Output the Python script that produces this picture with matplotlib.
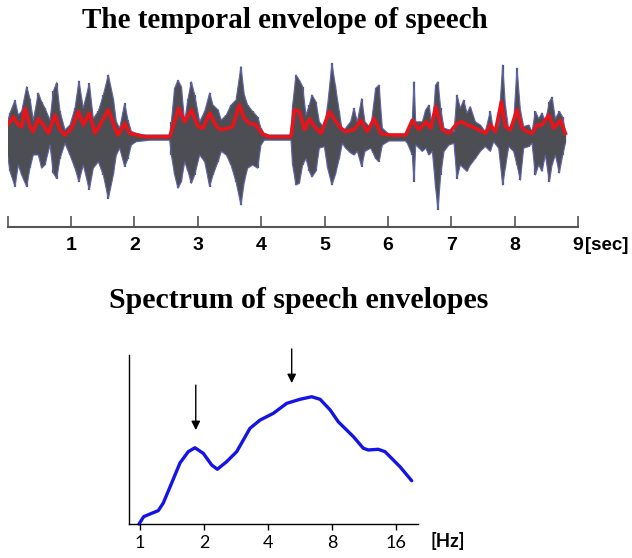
import numpy as np
import matplotlib
matplotlib.use("Agg")
import matplotlib.pyplot as plt

# speech waveform: upper / lower extent (time in sec)
wave_t = [0.00, 0.038, 0.117, 0.169, 0.222, 0.301, 0.353, 0.406, 0.485, 0.537, 0.590, 0.669, 0.721,
          0.774, 0.827, 0.905, 0.984, 1.063, 1.126, 1.194, 1.289, 1.352, 1.431, 1.510, 1.589, 1.668,
          1.715, 1.768, 1.847, 1.899, 1.952, 2.031, 2.136, 2.241, 2.399, 2.557, 2.583, 2.635, 2.688,
          2.741, 2.793, 2.846, 2.899, 2.951, 3.030, 3.109, 3.187, 3.240, 3.319, 3.371, 3.450,
          3.524, 3.603, 3.681, 3.734, 3.786, 3.865, 3.944, 3.997, 4.049, 4.128, 4.286, 4.470, 4.496,
          4.549, 4.602, 4.654, 4.707, 4.760, 4.801, 4.864, 4.917, 4.996, 5.048, 5.116, 5.169, 5.232,
          5.280, 5.332, 5.411, 5.464, 5.516, 5.585, 5.637, 5.727, 5.806, 5.859, 5.911, 6.017, 6.148,
          6.280, 6.306, 6.384, 6.411, 6.437, 6.542, 6.595, 6.647, 6.700, 6.752, 6.789, 6.831, 6.884,
          6.962, 7.041,
          7.088, 7.141, 7.194, 7.246, 7.299, 7.378, 7.457, 7.535, 7.614, 7.667, 7.746, 7.809, 7.851,
          7.904, 7.982, 8.035, 8.088, 8.140, 8.219, 8.272, 8.325, 8.377, 8.430, 8.482, 8.546, 8.588,
          8.640, 8.703, 8.756, 8.798]
wave_up = [0.19, 0.30, 0.46, 0.275, 0.32, 0.63, 0.48, 0.21, 0.55, 0.44, 0.36, 0.21, 0.57,
           0.68, 0.32, 0.09, 0.15, 0.36, 0.70, 0.36, 0.67, 0.23, 0.32, 0.525, 0.775, 0.48,
           0.19, 0.11, 0.42, 0.21, 0.07, 0.046, 0.025, 0.025, 0.025, 0.025, 0.19, 0.61, 0.71,
           0.63, 0.19, 0.48, 0.69, 0.525, 0.19, 0.32, 0.55, 0.40, 0.34, 0.21, 0.275,
           0.40, 0.46, 0.88, 0.525, 0.40, 0.32, 0.25, 0.11, 0.046, 0.025, 0.025, 0.025, 0.40,
           0.775, 0.71, 0.63, 0.275, 0.40, 0.525, 0.44, 0.19, 0.11, 0.40, 0.92, 0.65, 0.32,
           0.067, 0.11, 0.19, 0.36, 0.19, 0.48, 0.19, 0.11, 0.61, 0.65, 0.11, 0.033, 0.033,
           0.033, 0.09, 0.23, 0.69, 0.19, 0.19, 0.34, 0.40, 0.11, 0.65, 0.69, 0.36, 0.11,
           0.09, 0.067,
           0.525, 0.36, 0.46, 0.30, 0.38, 0.19, 0.15, 0.067, 0.32, 0.067, 0.15, 0.90, 0.40,
           0.09, 0.19, 0.86, 0.34, 0.13, 0.15, 0.067, 0.32, 0.23, 0.30, 0.19, 0.44, 0.50,
           0.23, 0.32, 0.25, 0.067]
wave_lo = [-0.225, -0.43, -0.62, -0.35, -0.475, -0.62, -0.39, -0.225, -0.225, -0.39, -0.35, -0.10, -0.45,
           -0.52, -0.27, -0.08, -0.225, -0.39, -0.56, -0.35, -0.66, -0.39, -0.31, -0.475, -0.77, -0.475,
           -0.225, -0.14, -0.37, -0.27, -0.10, -0.058, -0.05, -0.04, -0.04, -0.04, -0.225, -0.475, -0.64,
           -0.56, -0.31, -0.43, -0.58, -0.475, -0.225, -0.31, -0.62, -0.475, -0.31, -0.18, -0.225,
           -0.35, -0.56, -0.85, -0.56, -0.39, -0.35, -0.39, -0.10, -0.04, -0.04, -0.04, -0.04, -0.35,
           -0.60, -0.58, -0.35, -0.27, -0.43, -0.50, -0.43, -0.14, -0.12, -0.39, -0.60, -0.475, -0.27,
           -0.08, -0.14, -0.20, -0.225, -0.18, -0.37, -0.18, -0.14, -0.27, -0.31, -0.10, -0.05, -0.05,
           -0.05, -0.08, -0.225, -0.56, -0.10, -0.18, -0.14, -0.225, -0.18, -0.64, -0.91, -0.475, -0.18,
           -0.10, -0.08,
           -0.52, -0.35, -0.39, -0.43, -0.35, -0.27, -0.18, -0.12, -0.18, -0.06, -0.14, -0.60, -0.39,
           -0.12, -0.18, -0.35, -0.54, -0.14, -0.12, -0.08, -0.475, -0.35, -0.43, -0.225, -0.56, -0.35,
           -0.225, -0.45, -0.225, -0.08]

# red temporal envelope
env_t = [0.00, 0.090, 0.169, 0.222, 0.274, 0.353, 0.406, 0.485, 0.564, 0.643, 0.748, 0.827, 0.905,
         1.010, 1.116, 1.194, 1.289, 1.379, 1.458, 1.589, 1.694,
         1.741, 1.847, 1.925, 2.031, 2.188, 2.557, 2.609, 2.698, 2.793, 2.899, 3.004, 3.082, 3.187,
         3.293, 3.371, 3.476,
         3.550, 3.655, 3.734, 3.813, 3.918, 4.023, 4.128, 4.470, 4.523, 4.602, 4.681, 4.760, 4.838,
         4.944, 5.075, 5.180, 5.259,
         5.332, 5.464, 5.569, 5.674, 5.780, 5.885, 6.017, 6.280, 6.384, 6.490, 6.595, 6.674, 6.752,
         6.857, 6.962,
         7.088, 7.167, 7.246, 7.325, 7.430, 7.535, 7.614, 7.693, 7.788, 7.851, 7.930, 8.035, 8.114,
         8.193, 8.272, 8.351, 8.430, 8.535, 8.614, 8.719, 8.798]
env_v = [0.15, 0.25, 0.15, 0.13, 0.36, 0.13, 0.067, 0.23, 0.15, 0.046, 0.275, 0.09, 0.025,
         0.11, 0.32, 0.15, 0.30, 0.046, 0.15, 0.34, 0.11,
         0.025, 0.17, 0.046, 0.025, 0.004, 0.004, 0.13, 0.36, 0.19, 0.34, 0.13, 0.11, 0.30,
         0.13, 0.09, 0.11,
         0.13, 0.40, 0.23, 0.17, 0.15, 0.033, 0.004, 0.004, 0.34, 0.32, 0.09, 0.23, 0.13,
         0.046, 0.32, 0.19, 0.11,
         0.067, 0.09, 0.21, 0.067, 0.23, 0.046, 0.025, 0.025, 0.21, 0.09, 0.19, 0.11, 0.38,
         0.09, 0.046,
         0.17, 0.19, 0.15, 0.13, 0.09, 0.046, 0.15, 0.067, 0.44, 0.13, 0.09, 0.34, 0.11,
         0.067, 0.046, 0.15, 0.15, 0.275, 0.11, 0.21, 0.046]

sec_ticks = [0, 1, 2, 3, 4, 5, 6, 7, 8, 9]
sec_labels = ["", "1", "2", "3", "4", "5", "6", "7", "8", "9"]

# modulation spectrum of the envelope
spec_f = [0.99, 1.04, 1.114, 1.219, 1.287, 1.41, 1.542, 1.687, 1.814, 1.985, 2.174, 2.31, 2.558,
          2.85, 3.29, 3.67, 4.24, 4.90, 5.66, 6.42, 7.03, 7.84, 8.56, 10.08, 11.23, 11.85, 13.2,
          14.2, 16.7, 18.96]
spec_v = [0.0, 0.043, 0.059, 0.079, 0.124, 0.243, 0.361, 0.428, 0.451, 0.418, 0.349, 0.324, 0.369,
          0.428, 0.566, 0.615, 0.655, 0.714, 0.738, 0.753, 0.738, 0.675, 0.605, 0.517, 0.448, 0.438,
          0.442, 0.428, 0.339, 0.256]
hz_ticks = [1, 2, 4, 8, 16]
arrow_f = [1.83, 5.17]
arrow_top = [0.822, 1.036]
arrow_tip = [0.556, 0.834]

W, H = 632, 558
fig = plt.figure(figsize=(W / 100, H / 100), dpi=100)

# ---- top panel: waveform + envelope
ax1 = fig.add_axes([7.6 / W, (H - 227) / H, 570.6 / W, 172 / H])
ax1.fill_between(wave_t, wave_lo, wave_up, facecolor="#4d4d54", edgecolor="none", lw=0)
ax1.vlines(wave_t, wave_lo, wave_up, color="#4d4d54", lw=1.6)
ax1.plot(wave_t, wave_up, color="#6064a8", lw=0.8)
ax1.plot(wave_t, wave_lo, color="#6064a8", lw=0.8)
ax1.plot(env_t, env_v, color="#e8141a", lw=2.6, solid_joinstyle="round")
ax1.set_xlim(0, 9)
ax1.set_ylim(-1.125, 1.025)
for s in ["left", "right", "top"]:
    ax1.spines[s].set_visible(False)
ax1.spines["bottom"].set_color("#555555")
ax1.spines["bottom"].set_linewidth(1.5)
ax1.set_yticks([])
ax1.set_xticks(sec_ticks)
ax1.set_xticklabels(sec_labels)
ax1.tick_params(axis="x", direction="in", length=8, width=1.2, color="#555555", pad=7)
for lab in ax1.get_xticklabels():
    lab.set_fontfamily("Liberation Sans")
    lab.set_fontweight("bold")
    lab.set_fontsize(14)
fig.text(585 / W, (H - 245) / H, "[sec]", ha="left", va="center",
         family="Liberation Sans", fontweight="bold", fontsize=13.5)

fig.text(285 / W, (H - 20) / H, "The temporal envelope of speech", ha="center", va="center",
         family="Liberation Serif", fontweight="bold", fontsize=21)

# ---- bottom panel: spectrum
ax2 = fig.add_axes([129 / W, (H - 524) / H, 289 / W, 169 / H])
ax2.plot(spec_f, spec_v, color="#1414e6", lw=2.4, clip_on=False, solid_capstyle="round")
ax2.set_xscale("log", base=2)
ax2.set_xlim(0.888, 20.3)
ax2.set_ylim(0, 1)
ax2.spines["top"].set_visible(False)
ax2.spines["right"].set_visible(False)
ax2.spines["left"].set_linewidth(1)
ax2.spines["bottom"].set_linewidth(1)
ax2.set_yticks([])
ax2.set_xticks(hz_ticks)
ax2.set_xticklabels([str(h) for h in hz_ticks])
ax2.xaxis.set_minor_locator(matplotlib.ticker.NullLocator())
ax2.tick_params(axis="x", direction="out", length=4, width=1, pad=4, labelsize=13)
for lab in ax2.get_xticklabels():
    lab.set_fontfamily("Lato")
for f, y0, y1 in zip(arrow_f, arrow_top, arrow_tip):
    ax2.annotate("", xy=(f, y1), xytext=(f, y0), annotation_clip=False,
                 arrowprops=dict(arrowstyle="-|>", color="black", lw=1, mutation_scale=13,
                                 shrinkA=0, shrinkB=0))
fig.text(431 / W, (H - 541) / H, "[Hz]", ha="left", va="center", family="Lato",
         fontweight="bold", fontsize=13.5)

fig.text(299 / W, (H - 300) / H, "Spectrum of speech envelopes", ha="center", va="center",
         family="Liberation Serif", fontweight="bold", fontsize=21.5)

fig.savefig("out.png", dpi=100)
